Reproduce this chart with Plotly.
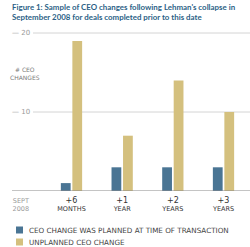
import plotly.graph_objects as go

categories = ["SEPT<br>2008", "+6<br>MONTHS", "+1<br>YEAR", "+2<br>YEARS", "+3<br>YEARS"]
planned = [0, 1, 3, 3, 3]
unplanned = [0, 19, 7, 14, 10]
series_names = ["CEO CHANGE WAS PLANNED AT TIME OF TRANSACTION", "UNPLANNED CEO CHANGE"]
series_colors = ["#4a7594", "#d4c07e"]
y_ticks = [10, 20]
title_text = "Figure 1: Sample of CEO changes following Lehman's collapse in<br>September 2008 for deals completed prior to this date"

W, H = 250, 247
ML, MR, MT, MB = 0, 0, 30, 56
plot_h = H - MT - MB

def tick_label(c, i):
    top, bottom = c.split("<br>")
    if i == 0:
        return f"<span style='color:#9a9a9a'>{top}<br>{bottom}</span>"
    return f"<span style='font-size:8px'>{top}</span><br>{bottom}"

fig = go.Figure()
for name, vals, col in zip(series_names, [planned, unplanned], series_colors):
    fig.add_trace(go.Bar(x=categories, y=vals, name=name, marker=dict(color=col, line=dict(width=0)),
                         showlegend=False))

shapes = []
annotations = []
for t in y_ticks:
    shapes.append(dict(type="line", xref="paper", yref="y", x0=33 / W, x1=1, y0=t, y1=t,
                       line=dict(color="#d4d4d4", width=1), layer="below"))
    annotations.append(dict(text=f"— {t}", xref="paper", yref="y", x=10 / W, y=t, xanchor="left",
                            yanchor="middle", showarrow=False, font=dict(size=7, color="#9a9a9a", family="DejaVu Sans")))
# baseline
shapes.append(dict(type="line", xref="paper", yref="y", x0=12 / W, x1=1, y0=0, y1=0,
                   line=dict(color="#8a8a8a", width=1.2)))
annotations.append(dict(text="# CEO<br>CHANGES", xref="paper", yref="y", x=25 / W, y=14.9,
                        xanchor="center", yanchor="middle", showarrow=False,
                        font=dict(size=6, color="#7a7a7a", family="DejaVu Sans")))

# legend (manual)
for i, (name, col) in enumerate(zip(series_names, series_colors)):
    yc = 230 + 12 * i
    shapes.append(dict(type="rect", xref="paper", yref="paper", x0=16 / W, x1=23 / W,
                       y0=(H - MB - (yc + 3.5)) / plot_h, y1=(H - MB - (yc - 3.5)) / plot_h,
                       fillcolor=col, line=dict(width=0)))
    annotations.append(dict(text=name, xref="paper", yref="paper", x=27 / W, y=(H - MB - yc) / plot_h,
                            xanchor="left", yanchor="middle", showarrow=False,
                            font=dict(size=7.2, color="#444444", family="DejaVu Sans")))

# title
annotations.append(dict(text=f"<b>{title_text}</b>", xref="paper", yref="paper", x=10 / W,
                        y=(H - MB) / plot_h, xanchor="left", yanchor="top", align="left",
                        showarrow=False, font=dict(size=7.9, color="#2b5f86", family="Lato")))

fig.update_layout(
    width=W, height=H, margin=dict(l=ML, r=MR, t=MT, b=MB),
    paper_bgcolor="white", plot_bgcolor="white",
    barmode="group", bargap=0.546, bargroupgap=0.15,
    xaxis=dict(type="category", range=[-0.411, 4.523], showgrid=False, zeroline=False, showline=False,
               ticks="", tickmode="array", tickvals=categories, ticklabelstandoff=4,
               ticktext=[tick_label(c, i) for i, c in enumerate(categories)],
               tickfont=dict(size=6.5, color="#333333", family="DejaVu Sans")),
    yaxis=dict(range=[0, plot_h / 7.9], showgrid=False, zeroline=False, showticklabels=False, ticks=""),
    shapes=shapes, annotations=annotations,
)
fig.write_html("out.html")
